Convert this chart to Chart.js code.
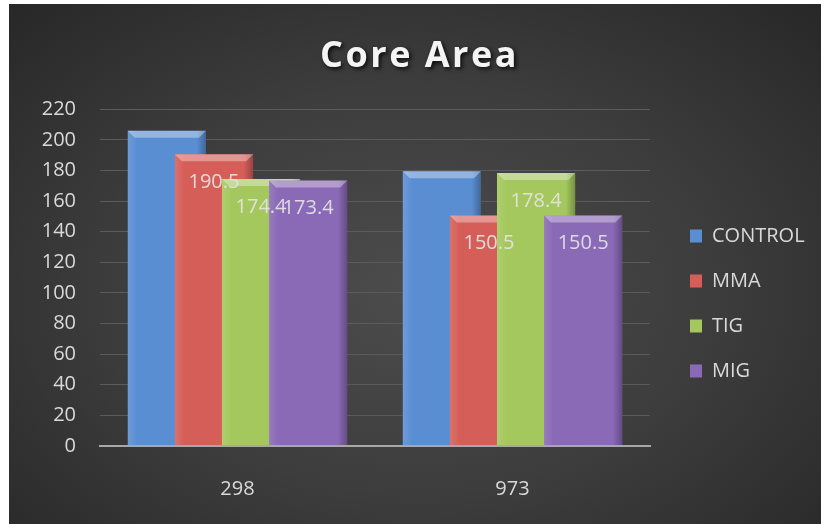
<!DOCTYPE html>
<html><head><meta charset="utf-8">
<script src="https://cdn.jsdelivr.net/npm/chart.js@4/dist/chart.umd.min.js"></script>
<style>
html,body{margin:0;padding:0;background:#fff;width:821px;height:524px;overflow:hidden}
#wrap{position:absolute;left:9px;top:4px;width:812px;height:520px;background:radial-gradient(ellipse 72% 78% at 50% 55%, #4c4c4c 0%, #3d3d3d 50%, #272727 100%);}
canvas{display:block}
</style></head><body>
<div id="wrap"><canvas id="c" width="812" height="520"></canvas></div>
<script>
const categories = ['298', '973'];
const seriesNames = ['CONTROL', 'MMA', 'TIG', 'MIG'];
const controlValues = [206, 179.5];
const mmaValues = [190.5, 150.5];
const tigValues = [174.4, 178.4];
const migValues = [173.4, 150.5];
const yMin = 0, yMax = 220, yStep = 20;
const showValueLabels = [false, true, true, true];
const seriesColors = ['#5a8ed3', '#d65e59', '#a4c85d', '#8a69b6'];

const FONT = '"Open Sans", "Liberation Sans", sans-serif';
const TITLE_CENTER_X = 410.5;

const bevel = {
  id: 'bevel',
  beforeDatasetsDraw(chart) {
    // draw series left to right so the later (right) bars overlap the earlier ones
    for (let i = 0; i < chart.data.datasets.length; i++) {
      chart._drawDataset(chart.getDatasetMeta(i));
    }
    return false;
  },
  afterDatasetDraw(chart, args) {
    const ctx = chart.ctx;
    const b = 7;
    args.meta.data.forEach(bar => {
      const w = bar.width, l = bar.x - w / 2, r = bar.x + w / 2, t = bar.y, btm = bar.base;
      ctx.save();
      const g = ctx.createLinearGradient(l, 0, r, 0);
      g.addColorStop(0, 'rgba(255,255,255,0.12)');
      g.addColorStop(0.12, 'rgba(255,255,255,0.0)');
      g.addColorStop(0.88, 'rgba(0,0,0,0)');
      g.addColorStop(1, 'rgba(0,0,0,0.28)');
      ctx.fillStyle = g;
      ctx.fillRect(l, t, w, btm - t);
      ctx.beginPath();
      ctx.moveTo(l, t); ctx.lineTo(r, t); ctx.lineTo(r - b, t + b); ctx.lineTo(l + b, t + b); ctx.closePath();
      ctx.fillStyle = 'rgba(255,255,255,0.35)';
      ctx.fill();
      ctx.restore();
    });
  },
  afterDraw(chart) {
    const ctx = chart.ctx;
    ctx.save();
    ctx.font = '20px ' + FONT;
    ctx.fillStyle = 'rgba(228,228,228,0.92)';
    ctx.textAlign = 'center';
    ctx.textBaseline = 'middle';
    chart.data.datasets.forEach((ds, i) => {
      if (!showValueLabels[i]) return;
      chart.getDatasetMeta(i).data.forEach((bar, j) => {
        ctx.fillText(String(ds.data[j]), bar.x, bar.y + 28);
      });
    });
    ctx.restore();
  }
};

const layoutFx = {
  id: 'layoutFx',
  afterLayout(chart) {
    const tb = chart.titleBlock;
    if (tb && !tb._wrapped) {
      const orig = tb.draw;
      tb.draw = function () {
        const ctx = chart.ctx;
        ctx.save();
        ctx.translate(TITLE_CENTER_X - (this.left + this.right) / 2, 0);
        ctx.letterSpacing = '2.5px';
        ctx.shadowColor = 'rgba(0,0,0,0.8)';
        ctx.shadowBlur = 4;
        ctx.shadowOffsetX = 2;
        ctx.shadowOffsetY = 2;
        orig.apply(this, arguments);
        ctx.restore();
      };
      tb._wrapped = true;
    }
    const lg = chart.legend;
    if (lg) {
      const w = lg.width, h = lg.height;
      lg.left = 656; lg.right = lg.left + w;
      lg.top = 197; lg.bottom = lg.top + h;
    }
  }
};

const datasets = [controlValues, mmaValues, tigValues, migValues].map((vals, i) => ({
  label: seriesNames[i],
  data: vals,
  backgroundColor: seriesColors[i],
  borderWidth: 0,
  categoryPercentage: 0.685,
  barPercentage: 1.66
}));

new Chart(document.getElementById('c'), {
  type: 'bar',
  data: { labels: categories, datasets },
  options: {
    responsive: false,
    devicePixelRatio: 1,
    animation: false,
    layout: { padding: { left: 0, right: 21.4, top: 0, bottom: 0 } },
    plugins: {
      tooltip: { enabled: false },
      title: {
        display: true,
        text: 'Core Area',
        color: '#f4f4f4',
        font: { family: FONT, size: 36, weight: 'bold' },
        padding: { top: 31, bottom: 31 }
      },
      legend: {
        position: 'right',
        align: 'start',
        labels: {
          color: '#d9d9d9',
          font: { family: FONT, size: 20 },
          boxWidth: 12,
          boxHeight: 13,
          padding: 25
        }
      }
    },
    scales: {
      x: {
        grid: { display: false },
        border: { display: true, color: '#a8a8a8', width: 2 },
        ticks: { color: '#d9d9d9', font: { family: FONT, size: 20 }, padding: 23 },
        afterFit(s) { s.height = 78; }
      },
      y: {
        min: yMin, max: yMax,
        ticks: { stepSize: yStep, color: '#d9d9d9', font: { family: FONT, size: 20 }, padding: 24 },
        grid: {
          drawTicks: false,
          color: c => c.tick && c.tick.value === 0 ? '#a8a8a8' : '#5b5b5b',
          lineWidth: c => c.tick && c.tick.value === 0 ? 2 : 1
        },
        border: { display: false },
        afterFit(s) { s.width = 91; }
      }
    }
  },
  plugins: [bevel, layoutFx]
});
</script>
</body></html>
